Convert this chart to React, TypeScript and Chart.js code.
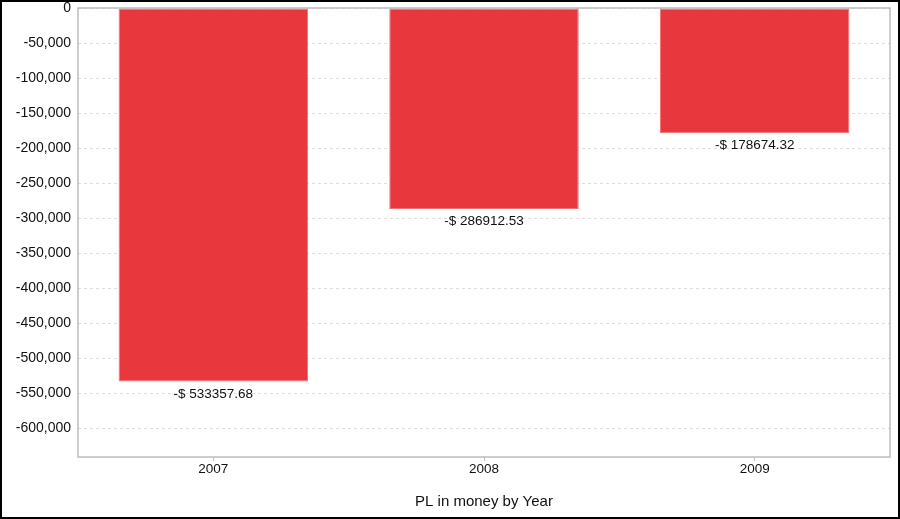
import React, { useEffect, useRef } from "react";
import { Chart, registerables } from "chart.js";

Chart.register(...registerables);

const categories = ["2007", "2008", "2009"];
const plValues = [-533357.68, -286912.53, -178674.32];
const yTicks = [0, -50000, -100000, -150000, -200000, -250000, -300000, -350000, -400000, -450000, -500000, -550000, -600000];
const axisTitle = "PL in money by Year";

const FONT = "'Liberation Sans', Arial, sans-serif";

const framePlugin = {
  id: "frame",
  afterDraw(chart: any) {
    const { ctx, chartArea } = chart;
    ctx.save();
    ctx.strokeStyle = "#bdbdbd";
    ctx.lineWidth = 1.5;
    ctx.strokeRect(chartArea.left, chartArea.top, chartArea.right - chartArea.left, chartArea.bottom - chartArea.top);
    ctx.restore();
  },
};

const labelPlugin = {
  id: "barLabels",
  afterDatasetsDraw(chart: any) {
    const { ctx } = chart;
    const meta = chart.getDatasetMeta(0);
    const data = chart.data.datasets[0].data as number[];
    ctx.save();
    ctx.font = `13.5px ${FONT}`;
    ctx.fillStyle = "#111";
    ctx.textAlign = "center";
    ctx.textBaseline = "middle";
    meta.data.forEach((bar: any, i: number) => {
      const v = data[i];
      const txt = (v < 0 ? "-$ " : "$ ") + Math.abs(v).toFixed(2);
      ctx.fillText(txt, bar.x, bar.y + 12.5);
    });
    ctx.restore();
  },
};

export default function App() {
  const ref = useRef<HTMLCanvasElement | null>(null);
  useEffect(() => {
    if (!ref.current) return;
    const chart = new Chart(ref.current, {
      type: "bar",
      data: {
        labels: categories,
        datasets: [
          {
            data: plValues,
            backgroundColor: "#e8383d",
            borderColor: "#ef7174",
            borderWidth: 1,
            borderSkipped: false,
            barPercentage: 0.7,
            categoryPercentage: 1,
          },
        ],
      },
      options: {
        animation: false,
        responsive: false,
        maintainAspectRatio: false,
        layout: { padding: { top: 6, right: 8, left: 0, bottom: 0 } },
        plugins: {
          legend: { display: false },
          tooltip: { enabled: false },
        },
        scales: {
          x: {
            grid: {
              display: true,
              drawOnChartArea: false,
              drawTicks: true,
              tickLength: 4,
              offset: false,
              color: "#bdbdbd",
            },
            border: { display: false },
            ticks: { color: "#111", font: { size: 13.5, family: FONT }, padding: 0 },
            title: {
              display: true,
              text: axisTitle,
              color: "#111",
              font: { size: 15, family: FONT },
              padding: { top: 8, bottom: 6 },
            },
            afterFit(scale: any) {
              scale.height = 60;
            },
          },
          y: {
            min: -641000,
            max: 0,
            grid: {
              color: "#dedede",
              drawTicks: false,
            },
            border: { display: false, dash: [3, 3] },
            ticks: {
              color: "#111",
              font: { size: 14, family: FONT },
              padding: 7,
              callback: (v: any) => Number(v).toLocaleString("en-US"),
            },
            afterBuildTicks(scale: any) {
              scale.ticks = yTicks.map((v) => ({ value: v }));
            },
            afterFit(scale: any) {
              scale.width = 76;
              scale.paddingTop = 0;
              scale.paddingBottom = 0;
            },
          },
        },
      },
      plugins: [framePlugin, labelPlugin],
    });
    return () => chart.destroy();
  }, []);
  return (
    <div
      style={{
        position: "absolute",
        left: 0,
        top: 0,
        width: 900,
        height: 519,
        boxSizing: "border-box",
        border: "2px solid #000",
        background: "#fff",
      }}
    >
      <canvas ref={ref} width={896} height={515} style={{ display: "block", width: 896, height: 515 }} />
    </div>
  );
}
